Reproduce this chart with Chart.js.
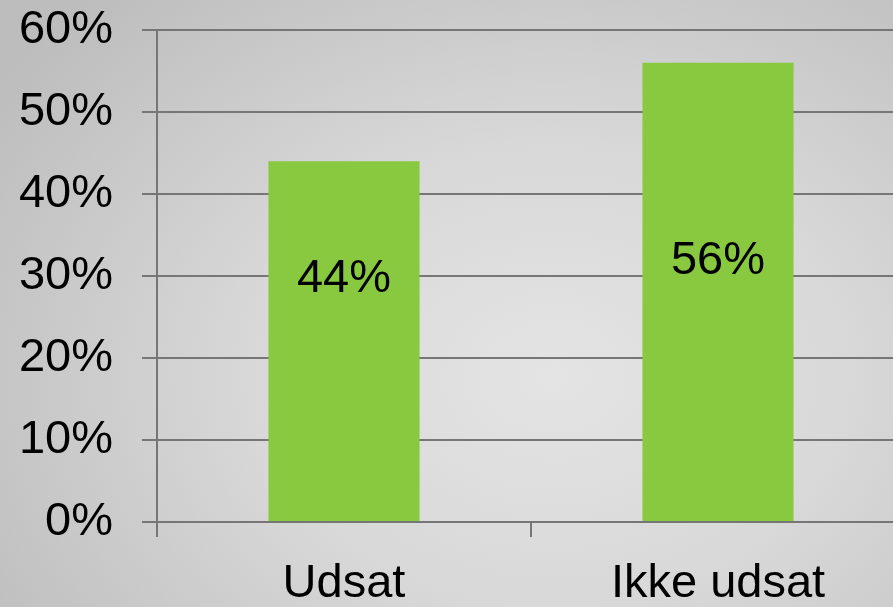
<!DOCTYPE html>
<html>
<head>
<meta charset="utf-8">
<script src="https://cdn.jsdelivr.net/npm/chart.js"></script>
<style>
  html, body { margin: 0; padding: 0; overflow: hidden; }
  body {
    width: 893px; height: 607px;
    background: radial-gradient(ellipse 75% 85% at 62% 62%, #e4e4e4 0%, #d8d8d8 45%, #bdbdbd 100%);
  }
  canvas { display: block; }
</style>
</head>
<body>
<canvas id="chart" width="905" height="607"></canvas>
<script>
// Data
const categories = ['Udsat', 'Ikke udsat'];
const shares = [44, 56];
const tickMax = 60;
const tickStep = 10;

// where the value labels sit inside each bar (in axis units)
const labelLevels = [29.6, 31.8];

const barColor = '#89c940';
const lineColor = '#767676';
const font = 'Liberation Sans, Arial, Helvetica, sans-serif';

const valueLabels = {
    id: 'valueLabels',
    afterDatasetsDraw(chart) {
        const ctx = chart.ctx;
        const meta = chart.getDatasetMeta(0);
        const y = chart.scales.y;
        ctx.save();
        ctx.font = '47px ' + font;
        ctx.fillStyle = '#000';
        ctx.textAlign = 'center';
        ctx.textBaseline = 'middle';
        meta.data.forEach((bar, i) => {
            ctx.fillText(shares[i] + '%', bar.x, y.getPixelForValue(labelLevels[i]));
        });
        ctx.restore();
    }
};

new Chart(document.getElementById('chart').getContext('2d'), {
    type: 'bar',
    data: {
        labels: categories,
        datasets: [{
            data: shares,
            backgroundColor: barColor,
            borderWidth: 0,
            barPercentage: 1,
            categoryPercentage: 0.404
        }]
    },
    plugins: [valueLabels],
    options: {
        responsive: false,
        animation: false,
        layout: { padding: { top: 30, right: 0, left: 0, bottom: 0 } },
        plugins: {
            legend: { display: false },
            tooltip: { enabled: false }
        },
        scales: {
            x: {
                afterFit(scale) { scale.height = 85; },
                grid: {
                    offset: true,
                    drawOnChartArea: false,
                    drawTicks: true,
                    tickLength: 15,
                    color: lineColor,
                    lineWidth: 2
                },
                border: { color: lineColor, width: 2 },
                ticks: {
                    color: '#000',
                    font: { family: font, size: 47 },
                    padding: 19,
                    maxRotation: 0
                }
            },
            y: {
                min: 0,
                max: tickMax,
                afterFit(scale) {
                    scale.width = 157;
                    scale.paddingTop = 0;
                    scale.paddingBottom = 0;
                },
                grid: {
                    color: lineColor,
                    lineWidth: 2,
                    tickLength: 15
                },
                border: { color: lineColor, width: 2 },
                ticks: {
                    stepSize: tickStep,
                    color: '#000',
                    font: { family: font, size: 47 },
                    padding: 29,
                    callback: v => v + '%'
                }
            }
        }
    }
});
</script>
</body>
</html>
